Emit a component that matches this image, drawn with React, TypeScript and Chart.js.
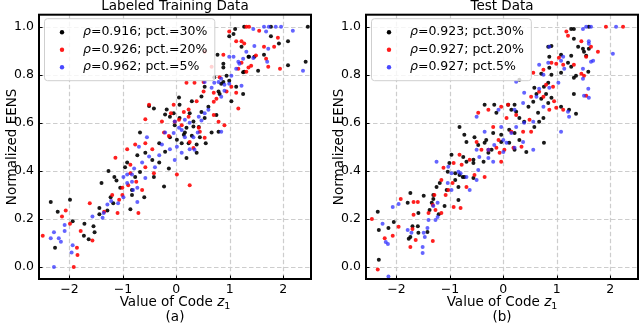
import React, { useEffect, useRef } from "react";
import { Chart, registerables } from "chart.js";
Chart.register(...registerables);

const FONT = '"DejaVu Sans", sans-serif';

const xTickValues = [-2, -1, 0, 1, 2];
const yTickValues = [0, 0.2, 0.4, 0.6, 0.8, 1.0];
const xRange = [-2.57, 2.52];
const yRange = [-0.05, 1.05];

const panelTitles = ["Labeled Training Data", "Test Data"];
const panelLetters = ["(a)", "(b)"];
const xAxisLabel = "Value of Code ";
const yAxisLabel = "Normalized EENS";
const trainLegend = ["=0.916; pct.=30%", "=0.926; pct.=20%", "=0.962; pct.=5%"];
const testLegend = ["=0.923; pct.30%", "=0.927; pct.20%", "=0.927; pct.5%"];
const seriesColors = ["rgba(0,0,0,0.9)", "rgba(255,0,0,0.88)", "rgba(40,40,255,0.72)"];
const legendColors = ["#000000", "#ff1a1a", "#4848ff"];

type P = [number, number];

// ---------- Labeled training data ----------
const trainK: P[] = [
  [-1.27,0.40],[-1.16,0.375],[-1.40,0.35],[-2.35,0.27],[-2.22,0.23],[-1.99,0.28],[-1.44,0.245],[-1.44,0.22],[-1.23,0.29],[-1.18,0.265],[-0.86,0.24],[-0.83,0.30],[-1.94,0.19],[-1.72,0.18],[-1.55,0.17],[-1.53,0.145],[-1.73,0.13],[-1.64,0.115],[-2.27,0.08],[-1.05,0.33],[-1.12,0.36],[-1.29,0.235],
  [-0.51,0.67],[-0.42,0.66],[0.06,0.675],[-0.18,0.655],[-0.68,0.56],[0.25,0.64],[-0.12,0.625],[-0.21,0.635],[0.32,0.585],[0.44,0.54],[0.16,0.56],[-0.12,0.54],[0.01,0.53],[-0.32,0.515],[-0.21,0.48],[0.10,0.515],[0.23,0.515],[0.38,0.51],[-0.58,0.475],[-0.73,0.465],[-0.92,0.435],[-0.96,0.415],[-0.45,0.445],[-0.32,0.435],[-0.14,0.41],[-0.77,0.375],[-0.68,0.395],[-0.83,0.32],[-0.42,0.375],[-0.23,0.335],[-0.60,0.29],[-0.03,0.59],[0.66,0.56],[0.55,0.515],
  [0.77,0.883],[1.35,0.875],[1.64,0.883],[1.53,0.817],[1.25,0.81],[0.88,0.83],[0.88,0.77],[0.53,0.75],[0.79,0.73],[1.12,0.75],[0.47,0.71],[1.03,0.69],[0.60,0.667],[0.05,0.705],[0.29,0.69],[-0.05,0.64],[0.06,0.62],[0.47,0.645],[0.75,0.633],[0.19,0.58],[0.32,0.605],[0.14,0.55],[0.29,0.546],[0.53,0.62],[0.42,0.583],[0.79,0.5625],[0.19,0.454],[0.38,0.475],
  [1.10,0.99],[1.07,0.97],[0.99,0.96],[1.27,1.0],[1.77,1.0],[1.77,0.96],[1.92,0.93],[2.09,0.94],[2.42,0.854],[2.09,0.84],[1.22,0.917],[1.36,0.875],[1.46,0.875],[0.88,0.846],[1.27,0.8125],[0.71,0.79],[0.94,0.796],[0.99,0.775],[1.25,0.72],[0.84,0.7625],[0.81,0.72],[2.46,1.0],
];
const trainR: P[] = [
  [-0.86,0.39],[-0.75,0.355],[-1.20,0.30],[-1.10,0.225],[-1.62,0.265],[-2.07,0.235],[-2.14,0.21],[-2.50,0.13],[-1.99,0.18],[-1.79,0.15],[-1.57,0.11],[-1.86,0.08],[-1.85,0.05],[-1.92,0.0],[-0.71,0.225],[-0.90,0.34],[-1.01,0.30],[-1.35,0.23],
  [-0.51,0.675],[-0.10,0.64],[0.23,0.625],[-0.58,0.615],[-0.27,0.605],[0.10,0.59],[-0.23,0.56],[-0.14,0.545],[-0.58,0.515],[-0.77,0.51],[0.25,0.52],[0.32,0.495],[-0.45,0.49],[-0.92,0.49],[-1.14,0.455],[-0.86,0.425],[-0.58,0.415],[-0.42,0.39],[-1.01,0.33],[-1.07,0.28],[0.25,0.34],[0.01,0.385],[-0.64,0.32],[0.42,0.58],
  [0.53,0.896],[0.88,0.883],[1.22,0.85],[1.35,0.83],[1.72,0.833],[0.34,0.767],[0.19,0.767],[0.51,0.77],[0.70,0.725],[1.12,0.725],[1.16,0.66],[0.51,0.73],[0.38,0.69],[0.14,0.645],[0.23,0.655],[0.05,0.6125],[0.79,0.604],[0.90,0.59],[0.44,0.5625],[0.53,0.5375],[-0.03,0.604],[0.70,0.633],[-0.05,0.675],
  [1.31,1.0],[1.36,1.0],[0.99,0.98],[1.12,0.94],[1.22,0.94],[1.27,0.93],[1.55,0.983],[1.90,0.954],[1.83,0.917],[1.64,0.917],[1.49,0.88],[1.68,0.867],[1.94,0.825],[1.40,0.8375],[1.31,0.8125],[1.16,0.825],[0.66,0.833],[0.81,0.79],[1.03,0.75],[0.94,0.73],[0.70,0.6875],[0.75,0.7],
];
const trainB: P[] = [
  [-2.29,0.145],[-2.35,0.12],[-2.20,0.12],[-2.16,0.105],[-2.09,0.15],[-2.09,0.175],[-1.94,0.09],[-1.96,0.06],[-2.29,0.0],[-1.57,0.21],[-1.38,0.205],[-1.36,0.225],[-1.29,0.26],[-1.22,0.275],[-1.09,0.265],[-0.99,0.29],[-0.92,0.35],[-0.81,0.32],[-0.83,0.385],[-0.73,0.33],[-0.73,0.27],[-0.99,0.375],
  [-0.03,0.605],[0.05,0.58],[-0.21,0.56],[-0.27,0.51],[-0.12,0.49],[0.16,0.54],[0.40,0.56],[0.47,0.61],[0.53,0.64],[-0.55,0.54],[-0.70,0.50],[-0.51,0.46],[-0.64,0.435],[-0.79,0.41],[-0.92,0.385],[-0.58,0.37],[-0.40,0.415],[-0.03,0.445],[0.25,0.49],[0.10,0.475],[-0.32,0.465],[-0.83,0.355],
  [0.99,0.875],[1.16,0.854],[1.44,0.87],[0.71,0.767],[0.79,0.77],[0.66,0.746],[0.53,0.77],[0.84,0.708],[0.90,0.758],[0.60,0.654],[0.42,0.625],[0.16,0.6125],[0.25,0.6],[0.10,0.57],[0.32,0.54],[-0.05,0.558],[0.84,0.5625],[0.34,0.4875],[0.01,0.5],
  [1.44,0.99],[1.64,1.0],[1.73,1.0],[1.86,1.0],[1.96,1.0],[2.18,0.983],[1.68,0.98],[1.46,0.92],[1.31,0.896],[1.07,0.875],[1.25,0.867],[1.72,0.908],[1.70,0.854],[2.37,0.817],[1.18,0.846],[1.12,0.825],[1.03,0.796],[1.22,0.754],[0.99,0.7625],[0.84,0.783],[0.90,0.733],
];

// ---------- Test data ----------
const testK: P[] = [
  [-2.35,0.23],[-2.33,0.154],[-2.33,0.03],[-2.05,0.1875],[-2.15,0.1625],[-1.74,0.308],[-1.79,0.267],[-1.49,0.296],[-1.31,0.30],[-1.31,0.283],[-1.19,0.35],[-1.25,0.333],[-1.06,0.32],[-1.10,0.254],[-1.38,0.2375],[-1.21,0.22],[-1.59,0.225],[-1.60,0.17],[-1.70,0.17],[-1.42,0.146],[-1.74,0.125],[-1.77,0.117],[-1.59,0.142],[-0.90,0.39],[-0.76,0.375],[-0.90,0.3625],[-1.04,0.396],[-0.84,0.333],
  [-0.35,0.675],[0.09,0.675],[0.21,0.675],[-0.13,0.642],[-0.82,0.583],[-0.73,0.55],[-0.69,0.52],[-0.54,0.54],[-0.47,0.508],[-0.35,0.517],[-0.22,0.4875],[-0.28,0.475],[-0.19,0.558],[-0.04,0.55],[0.11,0.571],[0.21,0.558],[0.30,0.529],[0.11,0.517],[0.21,0.4875],[-0.97,0.467],[-1.01,0.433],[-0.75,0.458],[-0.69,0.4375],[-0.56,0.446],[-0.56,0.433],[-0.37,0.4375],[-0.82,0.383],[-0.73,0.375],[-0.56,0.37],[-0.84,0.279],[-1.34,0.267],[0.30,0.62],[0.39,0.604],
  [0.86,0.875],[1.08,0.883],[1.21,0.85],[1.27,0.833],[1.08,0.808],[0.86,0.829],[0.90,0.80],[0.30,0.779],[0.58,0.746],[0.84,0.767],[0.76,0.75],[0.90,0.704],[0.84,0.683],[0.47,0.667],[0.24,0.646],[0.15,0.654],[-0.17,0.675],[0.65,0.642],[0.75,0.62],[1.23,0.654],[1.36,0.6375],[0.58,0.583],[0.67,0.604],[-0.32,0.529],[-0.04,0.52],[0.43,0.479],[0.76,0.517],
  [1.27,0.99],[1.32,0.99],[1.60,1.0],[1.32,0.95],[0.90,0.92],[0.84,0.917],[1.40,0.917],[1.49,0.908],[1.51,0.896],[1.60,0.908],[1.55,0.879],[1.27,0.879],[0.71,0.804],[1.36,0.796],[1.32,0.7875],[1.59,0.8125],[0.80,0.72],[0.62,0.72],[0.71,0.70],[1.32,0.72],[1.08,0.667],[0.56,0.6875],
];
const testR: P[] = [
  [-1.92,0.283],[-1.68,0.27],[-1.60,0.27],[-1.32,0.258],[-1.27,0.2375],[-1.16,0.225],[-1.40,0.225],[-1.68,0.217],[-2.46,0.2],[-2.07,0.13],[-2.22,0.12],[-1.96,0.167],[-1.70,0.158],[-1.64,0.1125],[-1.74,0.083],[-1.32,0.108],[-2.35,-0.01],[-1.03,0.32],[-0.95,0.35],[-0.93,0.25],[-1.08,0.30],[-0.80,0.246],
  [-0.04,0.667],[0.09,0.675],[-0.47,0.642],[-0.28,0.654],[0.06,0.62],[0.24,0.633],[-0.19,0.583],[-0.50,0.52],[-0.41,0.4875],[-0.28,0.4875],[-0.13,0.496],[-0.07,0.475],[-0.04,0.4375],[0.19,0.496],[-0.82,0.467],[-0.63,0.446],[-0.93,0.433],[-0.78,0.425],[-0.35,0.375],[-0.54,0.383],[-1.12,0.4125],[-1.16,0.3625],[-1.29,0.30],[-0.69,0.333],[0.34,0.50],[0.37,0.5625],
  [0.90,0.85],[1.12,0.842],[1.32,0.842],[0.56,0.808],[0.75,0.821],[0.80,0.758],[0.93,0.75],[0.52,0.708],[0.75,0.708],[0.99,0.6625],[0.86,0.654],[1.12,0.654],[0.49,0.6125],[0.52,0.5625],[0.15,0.5625],[-0.09,0.529],[0.02,0.4875],[1.04,0.871],
  [1.18,0.98],[1.21,0.9625],[1.46,0.94],[1.64,0.917],[1.77,0.896],[0.99,0.846],[1.55,0.875],[1.51,0.796],[0.95,0.69],[0.67,0.729],[1.92,1.0],[2.24,1.0],[1.46,0.804],[1.55,0.7125],
];
const testB: P[] = [
  [-1.96,0.2625],[-2.07,0.25],[-2.26,0.18],[-2.20,0.104],[-2.16,0.096],[-1.79,0.154],[-1.72,0.142],[-1.49,0.142],[-1.47,0.125],[-1.42,0.1625],[-1.40,0.196],[-1.27,0.196],[-1.23,0.208],[-1.31,0.254],[-1.23,0.267],[-1.51,0.083],[-1.51,0.058],[-2.15,-0.04],[-1.04,0.35],[-0.97,0.39],[-0.80,0.39],
  [-0.50,0.625],[-1.25,0.4375],[-0.50,0.4875],[-0.45,0.458],[-0.28,0.454],[-0.19,0.4375],[0.0,0.479],[0.06,0.517],[-0.04,0.583],[0.15,0.558],[0.24,0.583],[-0.35,0.5625],[-1.03,0.417],[-0.84,0.396],[-0.47,0.404],[-0.50,0.3625],[-0.97,0.32],[-0.69,0.375],[-0.63,0.32],[0.37,0.52],
  [0.75,0.80],[0.39,0.725],[0.24,0.771],[0.62,0.708],[0.75,0.667],[0.37,0.683],[0.21,0.654],[-0.09,0.654],[1.03,0.767],[0.86,0.746],[1.23,0.625],[0.56,0.604],[0.39,0.60],[0.0,0.529],[-0.17,0.508],[-0.28,0.4875],[0.21,0.496],[1.08,0.5625],[0.56,0.4875],[0.67,0.842],[0.84,0.85],
  [1.49,0.99],[1.55,1.0],[1.64,1.0],[2.11,1.0],[2.05,0.8875],[0.86,0.917],[1.08,0.858],[1.12,0.875],[1.14,0.825],[1.60,0.94],[1.60,0.929],[1.64,0.854],[1.68,0.858],[1.49,0.825],[1.49,0.783],[1.59,0.742],[1.51,0.7125],[0.67,0.742],[1.21,0.646],[1.60,0.704],
];

const fmtX = (v: number) => (v < 0 ? "\u2212" + Math.abs(v) : String(v));

type PanelProps = {
  series: P[][];
  title: string;
  letter: string;
  legend: string[];
  areaLeft: number;
  areaRight: number;
};

const W = 320;
const H = 324;
const TOP = 14.7;
const BOTTOM = 279;

function Panel({ series, title, letter, legend, areaLeft, areaRight }: PanelProps) {
  const ref = useRef<HTMLCanvasElement | null>(null);
  useEffect(() => {
    const canvas = ref.current;
    if (!canvas) return;
    const decor = {
      id: "decor",
      beforeDatasetsDraw(chart: any) {
        const ctx = chart.ctx as CanvasRenderingContext2D;
        const ca = chart.chartArea;
        const xs = chart.scales.x;
        const ys = chart.scales.y;
        ctx.save();
        ctx.strokeStyle = "#cdcdcd";
        ctx.lineWidth = 1.2;
        ctx.setLineDash([4.5, 2.5]);
        ctx.beginPath();
        xTickValues.forEach((v) => {
          const px = Math.round(xs.getPixelForValue(v)) + 0.5;
          ctx.moveTo(px, ca.top);
          ctx.lineTo(px, ca.bottom);
        });
        yTickValues.forEach((v) => {
          const py = Math.round(ys.getPixelForValue(v)) + 0.5;
          ctx.moveTo(ca.left, py);
          ctx.lineTo(ca.right, py);
        });
        ctx.stroke();
        ctx.restore();
      },
      afterDraw(chart: any) {
        const ctx = chart.ctx as CanvasRenderingContext2D;
        const ca = chart.chartArea;
        const xs = chart.scales.x;
        const ys = chart.scales.y;
        ctx.save();
        // inward ticks
        ctx.strokeStyle = "#000";
        ctx.lineWidth = 1;
        ctx.beginPath();
        xTickValues.forEach((v) => {
          const px = Math.round(xs.getPixelForValue(v)) + 0.5;
          ctx.moveTo(px, ca.bottom);
          ctx.lineTo(px, ca.bottom - 3.5);
        });
        yTickValues.forEach((v) => {
          const py = Math.round(ys.getPixelForValue(v)) + 0.5;
          ctx.moveTo(ca.left, py);
          ctx.lineTo(ca.left + 3.5, py);
        });
        ctx.stroke();
        // frame
        ctx.lineWidth = 2;
        ctx.strokeRect(ca.left, ca.top, ca.right - ca.left, ca.bottom - ca.top);

        // legend
        const fs = 12.5;
        const normal = `${fs}px ${FONT}`;
        const italic = `italic ${fs}px ${FONT}`;
        ctx.font = italic;
        const rhoW = ctx.measureText("\u03c1").width;
        ctx.font = normal;
        let maxW = 0;
        legend.forEach((t) => {
          maxW = Math.max(maxW, rhoW + ctx.measureText(t).width);
        });
        const bx = ca.left + 5;
        const by = ca.top + 3.5;
        const bw = 39 + maxW + 7;
        const bh = 62;
        ctx.beginPath();
        (ctx as any).roundRect(bx + 0.5, by + 0.5, bw, bh, 3);
        ctx.fillStyle = "rgba(255,255,255,0.8)";
        ctx.fill();
        ctx.strokeStyle = "#cfcfcf";
        ctx.lineWidth = 1;
        ctx.stroke();
        legend.forEach((t, i) => {
          const cy = by + 14 + i * 17.5;
          ctx.beginPath();
          ctx.arc(ca.left + 23, cy, 2.2, 0, Math.PI * 2);
          ctx.fillStyle = legendColors[i];
          ctx.fill();
          ctx.fillStyle = "#000";
          ctx.textAlign = "left";
          ctx.textBaseline = "middle";
          ctx.font = italic;
          ctx.fillText("\u03c1", ca.left + 44, cy);
          ctx.font = normal;
          ctx.fillText(t, ca.left + 44 + rhoW, cy);
        });

        // title
        const cx = (ca.left + ca.right) / 2;
        const lsz = 13.5;
        ctx.fillStyle = "#000";
        ctx.textAlign = "center";
        ctx.textBaseline = "middle";
        ctx.font = `${lsz}px ${FONT}`;
        ctx.fillText(title, cx, 6.5);

        // x label with italic z and subscript 1
        const lf = `${lsz}px ${FONT}`;
        const lfi = `italic ${lsz}px ${FONT}`;
        const sf = `9.5px ${FONT}`;
        ctx.font = lf;
        const w1 = ctx.measureText(xAxisLabel).width;
        ctx.font = lfi;
        const w2 = ctx.measureText("z").width;
        ctx.font = sf;
        const w3 = ctx.measureText("1").width;
        let x0 = cx - (w1 + w2 + w3) / 2;
        const ly = 306;
        ctx.textAlign = "left";
        ctx.textBaseline = "alphabetic";
        ctx.font = lf;
        ctx.fillText(xAxisLabel, x0, ly);
        x0 += w1;
        ctx.font = lfi;
        ctx.fillText("z", x0, ly);
        x0 += w2;
        ctx.font = sf;
        ctx.fillText("1", x0, ly + 2.5);
        // panel letter
        ctx.font = lf;
        ctx.textAlign = "center";
        ctx.textBaseline = "middle";
        ctx.fillText(letter, cx, 317);

        // y label
        ctx.translate(ca.left - 27, (ca.top + ca.bottom) / 2);
        ctx.rotate(-Math.PI / 2);
        ctx.textAlign = "center";
        ctx.textBaseline = "middle";
        ctx.font = `${lsz}px ${FONT}`;
        ctx.fillText(yAxisLabel, 0, 0);
        ctx.restore();
      },
    };

    const chart = new Chart(canvas, {
      type: "scatter",
      data: {
        datasets: series.map((pts, i) => ({
          data: pts.map(([x, y]) => ({ x, y })),
          backgroundColor: seriesColors[i],
          borderWidth: 0,
          pointRadius: 2,
          pointHoverRadius: 2,
          order: 3 - i,
        })),
      },
      options: {
        animation: false,
        responsive: false,
        devicePixelRatio: 1,
        events: [],
        layout: { padding: { left: 0, right: W - areaRight, top: TOP, bottom: 0 } },
        plugins: { legend: { display: false }, tooltip: { enabled: false }, title: { display: false } },
        scales: {
          x: {
            type: "linear",
            min: xRange[0],
            max: xRange[1],
            afterBuildTicks: (s: any) => {
              s.ticks = xTickValues.map((v) => ({ value: v }));
            },
            afterFit: (s: any) => {
              s.height = H - BOTTOM;
            },
            ticks: {
              callback: (v: any) => fmtX(Number(v)),
              font: { family: FONT, size: 12.5 },
              color: "#000",
              padding: 3,
              maxRotation: 0,
              autoSkip: false,
            },
            grid: { display: false, drawTicks: false },
            border: { display: false },
          },
          y: {
            type: "linear",
            min: yRange[0],
            max: yRange[1],
            afterBuildTicks: (s: any) => {
              s.ticks = yTickValues.map((v) => ({ value: v }));
            },
            afterFit: (s: any) => {
              s.width = areaLeft;
            },
            ticks: {
              callback: (v: any) => Number(v).toFixed(1),
              font: { family: FONT, size: 12.5 },
              color: "#000",
              padding: 5,
              autoSkip: false,
            },
            grid: { display: false, drawTicks: false },
            border: { display: false },
          },
        },
      } as any,
      plugins: [decor],
    });
    return () => chart.destroy();
  }, [series, title, letter, legend, areaLeft, areaRight]);
  return <canvas ref={ref} width={W} height={H} style={{ display: "block", width: W, height: H }} />;
}

const trainSeries = [trainK, trainR, trainB];
const testSeries = [testK, testR, testB];

export default function App() {
  return (
    <div style={{ position: "fixed", left: 0, top: 0, width: 640, height: 324, background: "#fff", display: "flex" }}>
      <Panel series={trainSeries} title={panelTitles[0]} letter={panelLetters[0]} legend={trainLegend} areaLeft={39} areaRight={311} />
      <Panel series={testSeries} title={panelTitles[1]} letter={panelLetters[1]} legend={testLegend} areaLeft={46} areaRight={318} />
    </div>
  );
}
